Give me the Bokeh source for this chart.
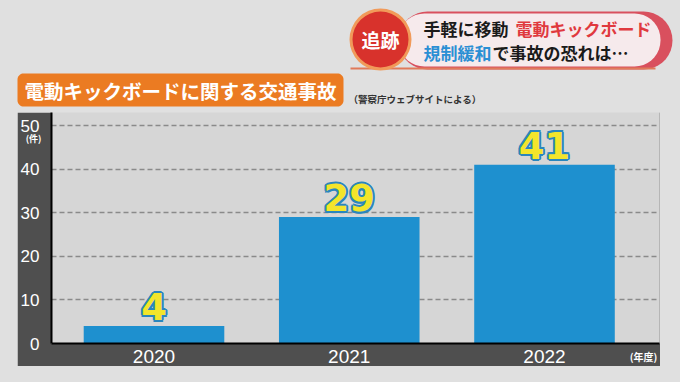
import numpy as np
from bokeh.plotting import figure
from bokeh.models import FixedTicker, LinearAxis, Spacer
from bokeh.layouts import column, row
from bokeh.core.properties import value
from bokeh.embed import file_html
from bokeh.resources import INLINE

# ---- data ----
years = [2020, 2021, 2022]
year_labels = ["2020", "2021", "2022"]
accidents = [4, 29, 41]
y_ticks = [0, 10, 20, 30, 40, 50]

title_text = "電動キックボードに関する交通事故"
source_note = "（警察庁ウェブサイトによる）"
unit_y = "(件)"
unit_x = "(年度)"
badge = "追跡"
headline1 = ["手軽に移動", "電動キックボード"]
headline2 = ["規制緩和", "で事故の恐れは…"]

# ---- styles ----
BG = "#e0e0e0"
DARK = "#4f4f4f"
PLOT_BG = "#d6d6d6"
BAR = "#1e90cf"
JPF = "Noto Sans CJK JP"
JP = value(JPF)


def rrect(x0, y0, x1, y1, r, n=10):
    xs, ys = [], []
    corners = [(x1 - r, y0 + r, -90, 0), (x1 - r, y1 - r, 0, 90),
               (x0 + r, y1 - r, 90, 180), (x0 + r, y0 + r, 180, 270)]
    for cx, cy, a0, a1 in corners:
        for a in np.linspace(np.radians(a0), np.radians(a1), n):
            xs.append(cx + r * np.cos(a))
            ys.append(cy + r * np.sin(a))
    return xs, ys


# ---- header (title + banner) ----
hdr = figure(width=680, height=112, x_range=(0, 680), y_range=(112, 0),
             output_backend="svg", toolbar_location=None, min_border=0,
             outline_line_color=None, background_fill_color=BG,
             border_fill_color=BG)
hdr.axis.visible = False
hdr.grid.visible = False

# banner
bx, by = rrect(398, 11, 672, 69, 29)
hdr.patch(bx, by, fill_color="#d9505e", line_color=None)
bx, by = rrect(398, 13, 660, 66, 26)
hdr.patch(bx, by, fill_color="#f6eaec", line_color=None)
hdr.segment(x0=[350], y0=[68], x1=[655], y1=[68], line_color="#e07a5a", line_width=2)
# badge circle
hdr.scatter(x=[380], y=[39], size=62, marker="circle", fill_color="#f19a5a", line_color=None)
hdr.scatter(x=[380], y=[39], size=56, marker="circle", fill_color="#d8322c", line_color=None)
hdr.text(x=[380], y=[39], text=[badge], text_align="center", text_baseline="middle",
         text_font=JP, text_font_size="19px", text_font_style="bold", text_color="white")
# headline lines
hdr.text(x=[423, 515], y=[28, 28], text=headline1, text_color=["#1a1a1a", "#e0393e"],
         text_align="left", text_baseline="middle", text_font=JP,
         text_font_size="17px", text_font_style="bold")
hdr.text(x=[423, 492], y=[52, 52], text=headline2, text_color=["#2a8fd4", "#1a1a1a"],
         text_align="left", text_baseline="middle", text_font=JP,
         text_font_size="17px", text_font_style="bold")

# title box
tx, ty = rrect(17, 73, 343, 106, 6)
hdr.patch(tx, ty, fill_color="#eb7b22", line_color=None)
hdr.text(x=[180], y=[90], text=[title_text], text_align="center", text_baseline="middle",
         text_font=JP, text_font_size="19.5px", text_font_style="bold", text_color="white")
hdr.text(x=[348], y=[98], text=[source_note], text_align="left", text_baseline="middle",
         text_font=JP, text_font_size="9.5px", text_font_style="bold", text_color="#333333")

# ---- chart ----
p = figure(width=643, height=254, x_range=(2019.475, 2022.589), y_range=(0, 53),
           output_backend="svg", toolbar_location=None,
           min_border_left=34, min_border_right=1, min_border_top=0, min_border_bottom=22,
           background_fill_color=PLOT_BG, border_fill_color=DARK,
           outline_line_color=None)

p.vbar(x=years, top=accidents, width=0.72, fill_color=BAR, line_color=None)
labels = [str(v) for v in accidents]
for dx, dy in [(-2, 0), (2, 0), (0, -2), (0, 2), (-1.5, -1.5), (1.5, 1.5), (-1.5, 1.5), (1.5, -1.5)]:
    p.text(x=years, y=accidents, text=labels, x_offset=dx, y_offset=-6 + dy,
           text_align="center", text_baseline="bottom",
           text_font=value("DejaVu Sans"), text_font_size="37px", text_font_style="bold",
           text_color="#2a86bd")
p.text(x=years, y=accidents, text=labels, y_offset=-6,
       text_align="center", text_baseline="bottom",
       text_font=value("DejaVu Sans"), text_font_size="37px", text_font_style="bold",
       text_color="#f3e52b")

p.yaxis.ticker = FixedTicker(ticks=y_ticks)
p.xaxis.ticker = FixedTicker(ticks=years)
p.xaxis.major_label_overrides = {y: s for y, s in zip(years, year_labels)}
for ax in (p.xaxis, p.yaxis):
    ax.axis_line_color = "black"
    ax.axis_line_width = 2
    ax.major_tick_line_color = None
    ax.minor_tick_line_color = None
    ax.major_label_text_color = "white"
    ax.major_label_text_font = "Liberation Sans"
p.yaxis.major_label_text_font_size = "17px"
p.yaxis.major_label_standoff = 6
p.xaxis.major_label_text_font_size = "19px"
p.xaxis.major_label_standoff = 0

# unit captions as secondary axes (same ranges), pulled back next to the main labels
unit_y_axis = LinearAxis(ticker=FixedTicker(ticks=[47]), major_label_overrides={47: unit_y},
                         major_label_standoff=-30)
unit_x_axis = LinearAxis(ticker=FixedTicker(ticks=[2022.507]),
                         major_label_overrides={2022.507: unit_x},
                         major_label_standoff=-23)
for ax in (unit_y_axis, unit_x_axis):
    ax.axis_line_color = None
    ax.major_tick_line_color = None
    ax.minor_tick_line_color = None
    ax.major_label_text_color = "white"
    ax.major_label_text_font = JPF
    ax.major_label_text_font_style = "bold"
unit_y_axis.major_label_text_font_size = "9px"
unit_x_axis.major_label_text_font_size = "10px"
p.add_layout(unit_y_axis, "left")
p.add_layout(unit_x_axis, "below")

p.xgrid.visible = False
p.ygrid.ticker = FixedTicker(ticks=y_ticks[1:])
p.ygrid.grid_line_color = "#8a8a8a"
p.ygrid.grid_line_width = 1.5
p.ygrid.grid_line_dash = "5 3"

layout = column(hdr, row(Spacer(width=17, height=254), p), Spacer(width=680, height=16))
layout.styles = {"background-color": BG}

open("out.html", "w").write(file_html(layout, INLINE))
